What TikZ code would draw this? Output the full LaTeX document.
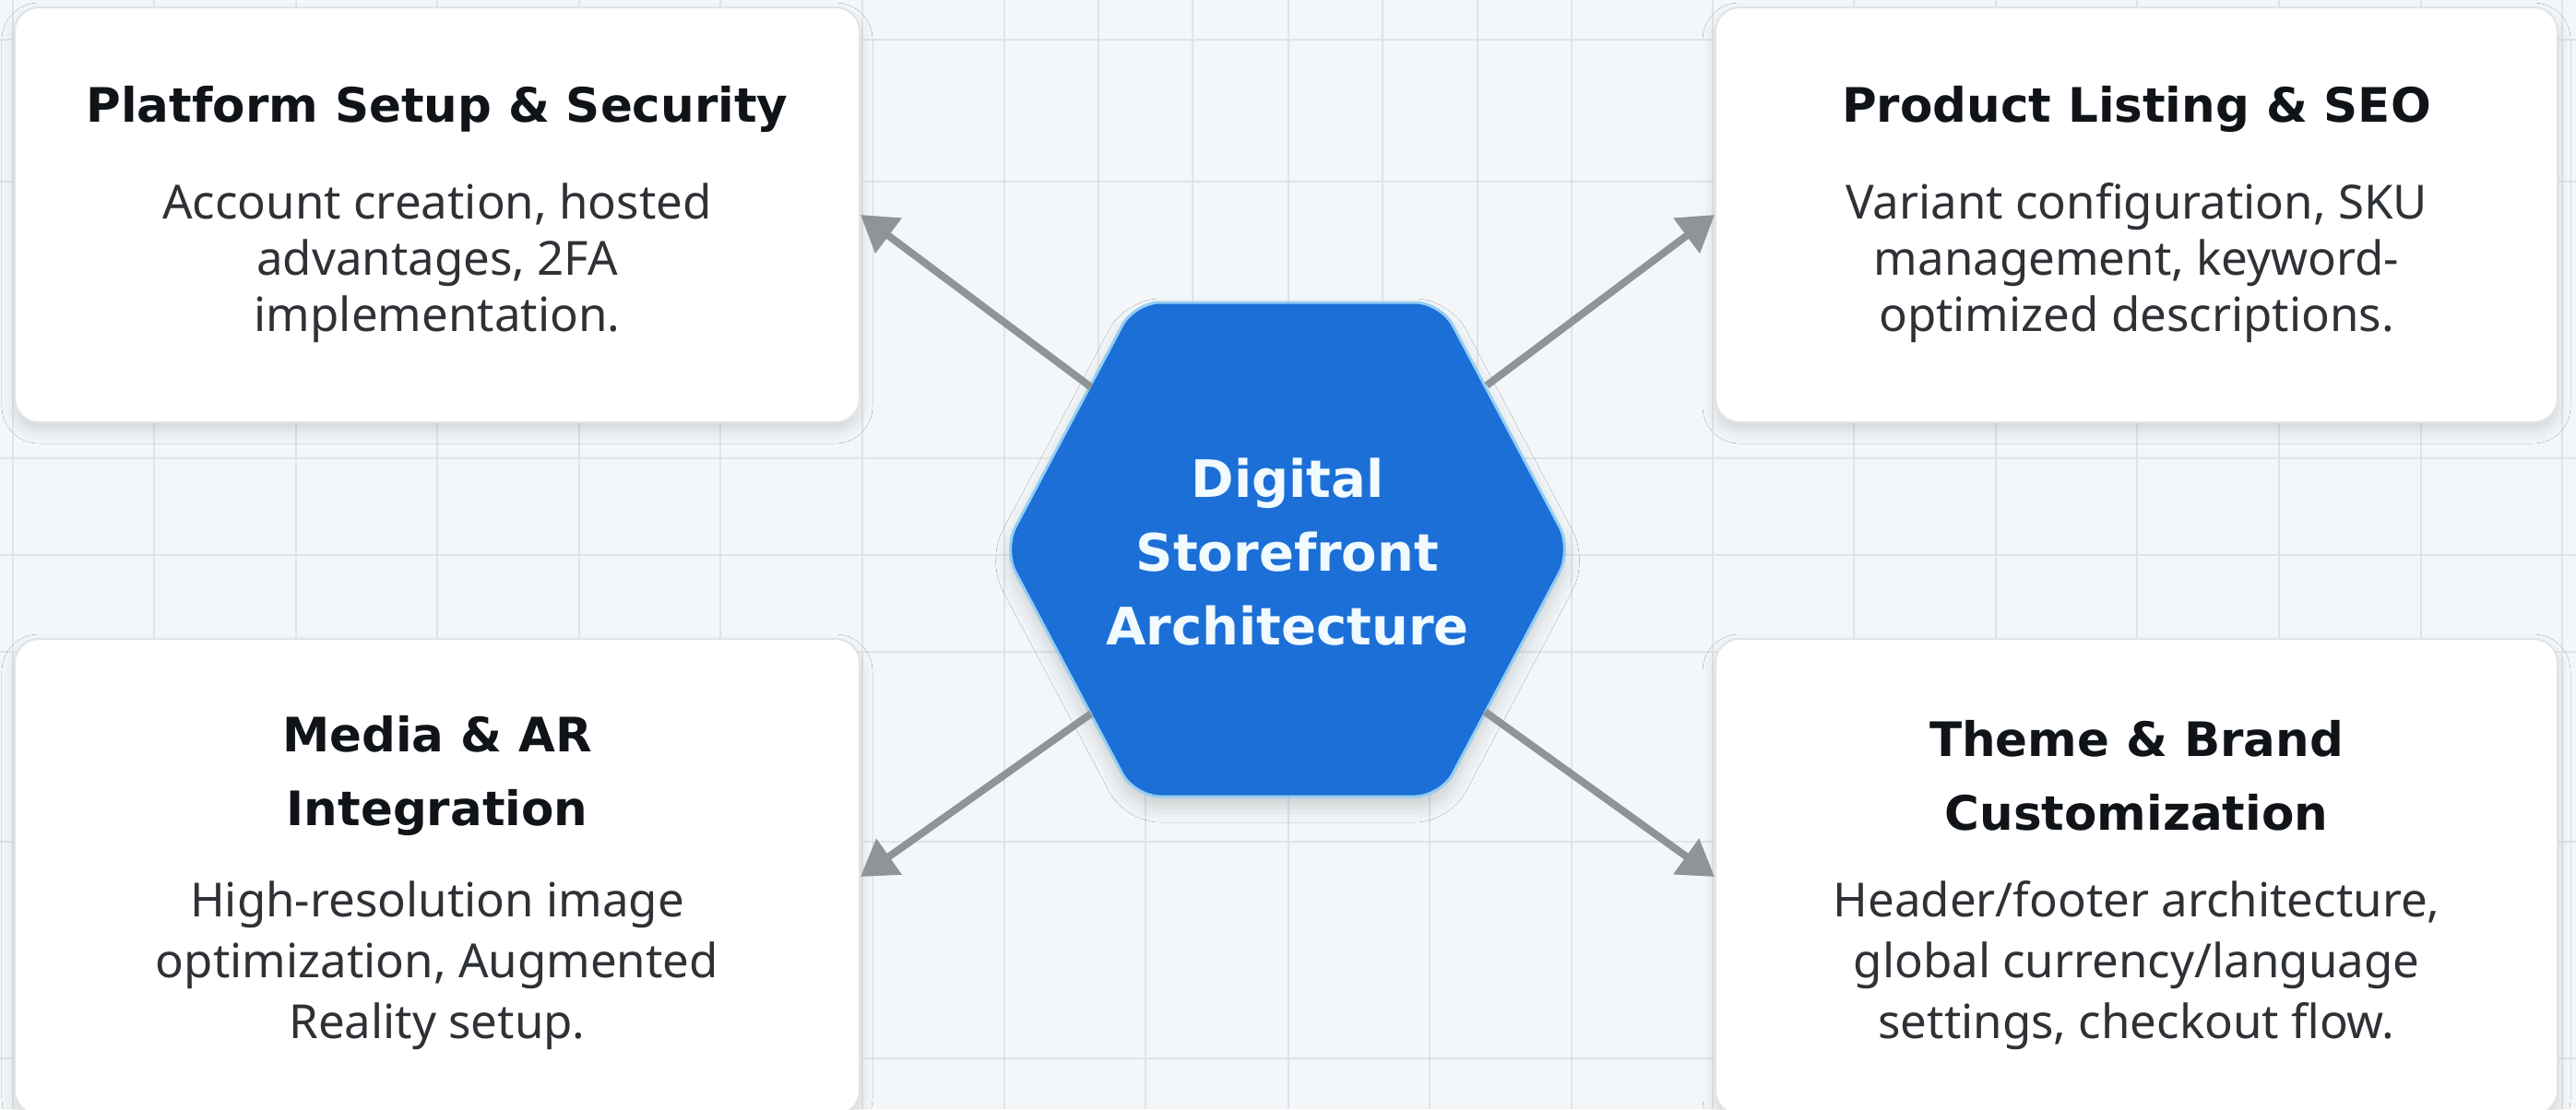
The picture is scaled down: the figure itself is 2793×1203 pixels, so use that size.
\documentclass[tikz,border=0pt]{standalone}
\usepackage{fontspec}
\setmainfont{Noto Sans}
\newfontfamily\titlefont{DejaVu Sans}
\usetikzlibrary{arrows.meta,shadows.blur}
\definecolor{bgc}{HTML}{F4F7F9}
\definecolor{gridc}{HTML}{E0E4E7}
\definecolor{cardborder}{HTML}{E1E4E7}
\definecolor{arrowc}{HTML}{8F9499}
\definecolor{hexfill}{HTML}{1C6FD6}
\definecolor{hexborder}{HTML}{93CDF3}
\definecolor{titlec}{HTML}{101418}
\definecolor{bodyc}{HTML}{2E3236}
\definecolor{hextc}{HTML}{F0FAFF}
\begin{document}
\begin{tikzpicture}[x=1pt,y=-1pt,
  gridline/.style={draw=gridc, line width=2pt},
  card/.style={draw=cardborder, line width=2pt, fill=white, rounded corners=26pt,
    blur shadow={shadow xshift=0pt, shadow yshift=-9pt, shadow blur radius=14pt, shadow opacity=13},
    inner sep=0pt},
  hexshape/.style={fill=hexfill, draw=hexborder, line width=3pt, rounded corners=28pt,
    blur shadow={shadow xshift=0pt, shadow yshift=-12pt, shadow blur radius=16pt, shadow opacity=16}},
  titletxt/.style={font=\titlefont\bfseries\fontsize{51.5}{80}\selectfont, text=titlec, align=center, inner sep=0pt},
  bodytop/.style={font=\fontsize{51}{61}\selectfont, text=bodyc, align=center, inner sep=0pt},
  bodybot/.style={font=\fontsize{51}{66}\selectfont, text=bodyc, align=center, inner sep=0pt},
  hextxt/.style={font=\titlefont\bfseries\fontsize{56}{80}\selectfont, text=hextc, align=center, inner sep=0pt},
  conn/.style={draw=arrowc, line width=8pt, -{Triangle[length=38pt,width=46pt]}}
]
\useasboundingbox (0,0) rectangle (2793,1203);
\fill[bgc] (0,0) rectangle (2793,1203);
% grid
\foreach \gx in {13.5,167,321,474,628,781,935,1857,2010,2164,2317,2471,2625,2778}
  \draw[gridline] (\gx,0) -- (\gx,1203);
\foreach \gx in {1089,1397,1704}
  \draw[gridline] (\gx,0) -- (\gx,1203);
\foreach \gx in {1191,1293,1499,1602}
  \draw[gridline] (\gx,0) -- (\gx,497);
\foreach \gx in {1242,1550}
  \draw[gridline] (\gx,497) -- (\gx,1203);
\foreach \gy in {43,197,497,602,707,913,1148}
  \draw[gridline] (0,\gy) -- (2793,\gy);
% cards
\node[card, minimum width=916pt, minimum height=450pt] (tl) at (474,233) {};
\node[card, minimum width=913pt, minimum height=450pt] (tr) at (2316.5,233) {};
\node[card, minimum width=916pt, minimum height=516pt] (bl) at (474,951) {};
\node[card, minimum width=913pt, minimum height=516pt] (br) at (2316.5,951) {};
% hexagon
\path[hexshape] (1088,596) -- (1230,328) -- (1562,328) -- (1704,596) -- (1562,864) -- (1230,864) -- cycle;
\node[hextxt] (hex) at (1396,599) {Digital\\Storefront\\Architecture};
% connectors
\coordinate (hTL) at (1183,420);
\coordinate (hTR) at (1612,418);
\coordinate (hBL) at (1183,774);
\coordinate (hBR) at (1610,772);
\draw[conn] (hTL) -- (tl.east);
\draw[conn] (hTR) -- (tr.west);
\draw[conn] (hBL) -- (bl.east);
\draw[conn] (hBR) -- (br.west);
% texts
\node[titletxt] (tlT) at (474,118) {Platform Setup \& Security};
\node[bodytop] (tlB) at (474,285) {Account creation, hosted\\advantages, 2FA\\implementation.};
\node[titletxt] (trT) at (2316.5,118) {Product Listing \& SEO};
\node[bodytop] (trB) at (2316.5,285) {Variant configuration, SKU\\management, keyword-\\optimized descriptions.};
\node[titletxt] (blT) at (474,841) {Media \& AR\\Integration};
\node[bodybot] (blB) at (474,1047) {High-resolution image\\optimization, Augmented\\Reality setup.};
\node[titletxt] (brT) at (2316.5,841) {Theme \& Brand\\Customization};
\node[bodybot] (brB) at (2316.5,1047) {Header/footer architecture,\\global currency/language\\settings, checkout flow.};
\end{tikzpicture}
\end{document}
